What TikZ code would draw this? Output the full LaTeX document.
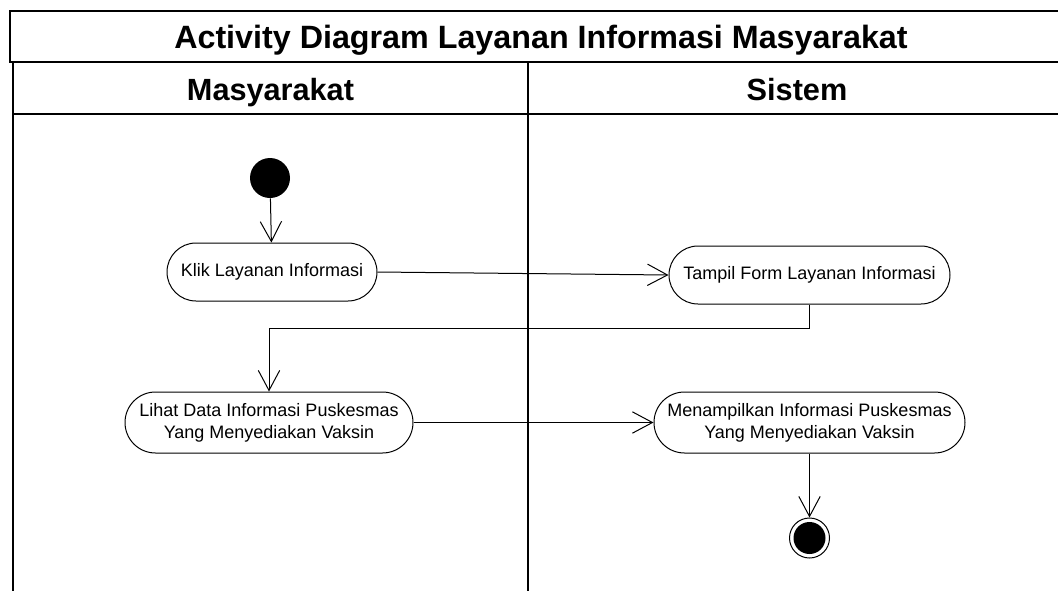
\documentclass[tikz,border=0pt]{standalone}
\usepackage{fontspec}
\setmainfont{Liberation Sans}
\usetikzlibrary{arrows.meta,shapes.misc}
\begin{document}
\begin{tikzpicture}[x=0.75pt,y=-0.75pt,
  frame/.style={draw=black,line width=1.2pt},
  titletext/.style={font=\bfseries\fontsize{24.2pt}{28pt}\selectfont,anchor=base,inner sep=0pt},
  lanetext/.style={font=\bfseries\fontsize{23pt}{27pt}\selectfont,anchor=base,inner sep=0pt},
  activity/.style={rounded rectangle,draw=black,line width=0.75pt,
    font=\fontsize{13.5pt}{16.5pt}\selectfont,align=center,inner sep=0pt,
    text=black},
  flow/.style={draw=black,line width=0.75pt,
    -{Straight Barb[length=15pt,width=16pt,line width=0.75pt]}},
  initnode/.style={circle,fill=black,minimum size=30pt,inner sep=0pt},
  endnode/.style={circle,draw=black,line width=0.75pt,minimum size=30pt,inner sep=0pt}
]
\useasboundingbox (0,0) rectangle (1058,590);
\clip (0,0) rectangle (1058,590);

% title bar and swimlane frame
\draw[frame] (10,11) rectangle (1072,62);
\node[titletext] (title) at (541,48) {Activity Diagram Layanan Informasi Masyarakat};
\draw[frame] (13,62) rectangle (1066,114);
\draw[frame] (13,114) -- (13,600);
\draw[frame] (528,62) -- (528,600);
\node[lanetext] (lane1) at (270.5,100) {Masyarakat};
\node[lanetext] (lane2) at (797,100) {Sistem};

% activities
\node[initnode] (init) at (270,178) {};
\node[activity,minimum width=157.5pt,minimum height=43.5pt] (klik) at (272,272) {Klik Layanan Informasi};
\node[activity,minimum width=210.75pt,minimum height=43.5pt] (tampil) at (809.5,275) {Tampil Form Layanan Informasi};
\node[activity,minimum width=216pt,minimum height=45.75pt] (lihat) at (269,422.5) {Lihat Data Informasi Puskesmas\\Yang Menyediakan Vaksin};
\node[activity,minimum width=233.25pt,minimum height=45.75pt] (tampilinfo) at (809.5,422.5) {Menampilkan Informasi Puskesmas\\Yang Menyediakan Vaksin};
\node[endnode] (final) at (809.5,538) {};
\fill[black] (final.center) circle[radius=12pt];

% control flow
\draw[flow] (init) -- (klik);
\draw[flow] (klik.east) -- (tampil.west);
\draw[flow] (tampil.south) -- ++(0,24) -| (lihat.north);
\draw[flow] (lihat.east) -- (tampilinfo.west);
\draw[flow] (tampilinfo.south) -- (final.north);
\end{tikzpicture}
\end{document}
